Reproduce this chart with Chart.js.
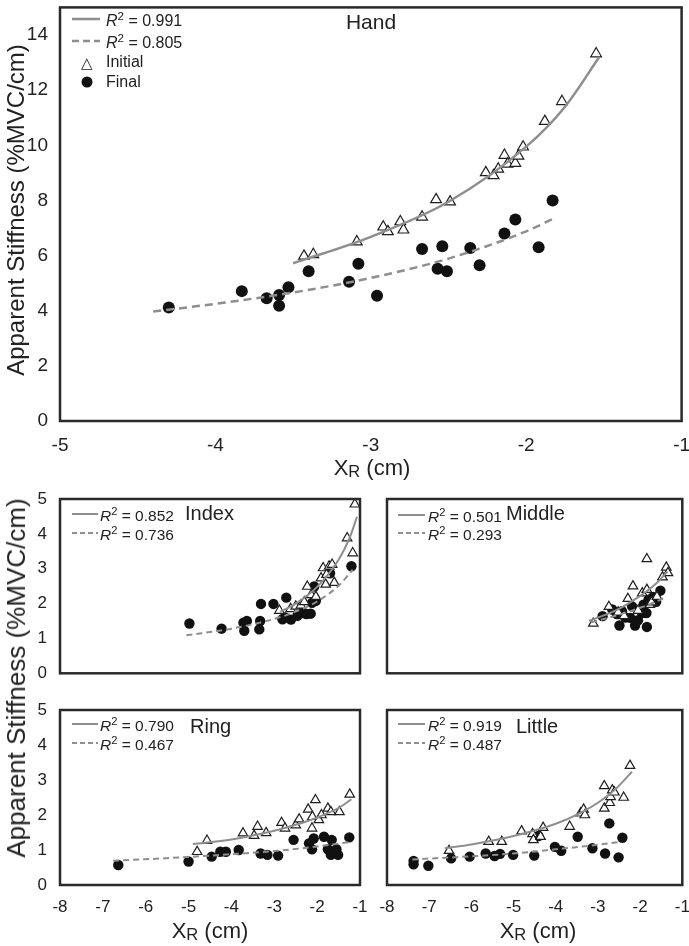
<!DOCTYPE html>
<html>
<head>
<meta charset="utf-8">
<script src="https://cdn.jsdelivr.net/npm/chart.js@4.4.0/dist/chart.umd.min.js"></script>
<style>
  body { margin: 0; background: #fff; }
  #page { position: relative; width: 689px; height: 946px; overflow: hidden; font-family: 'Liberation Sans', Arial, sans-serif; color: #222; }
  canvas { position: absolute; }
  .txt { position: absolute; white-space: nowrap; line-height: 1; transform: translateY(-50%); }
  .ctr { transform: translate(-50%, -50%); }
  .r2 sup { font-size: 0.72em; position: relative; top: -0.15em; vertical-align: top; }
  .xt sub { font-size: 0.75em; position: relative; top: 0.1em; vertical-align: baseline; }
  .yt { position: absolute; white-space: nowrap; line-height: 1; transform: translate(-50%, -50%) rotate(-90deg); }
  .dot { position: absolute; width: 11px; height: 11px; border-radius: 50%; background: #111; transform: translate(-50%, -50%); }
  svg { position: absolute; overflow: visible; }
</style>
</head>
<body>
<div id="page">
  <canvas id="hand"></canvas>
  <canvas id="index"></canvas>
  <canvas id="middle"></canvas>
  <canvas id="ring"></canvas>
  <canvas id="little"></canvas>
</div>
<script>
// ---- data: [XR (cm), stiffness (%MVC/cm)] ----
const handInitial = [[-3.43,5.98],[-3.37,6.04],[-3.09,6.50],[-2.92,7.04],[-2.89,6.87],[-2.81,7.23],[-2.79,6.93],
  [-2.67,7.40],[-2.58,8.03],[-2.49,7.95],[-2.26,9.01],[-2.21,8.90],[-2.18,9.14],[-2.14,9.64],[-2.12,9.32],
  [-2.07,9.35],[-2.05,9.61],[-2.02,9.94],[-1.88,10.87],[-1.77,11.59],[-1.55,13.32]];
const handFinal = [[-4.30,4.12],[-3.83,4.71],[-3.67,4.45],[-3.59,4.57],[-3.59,4.18],[-3.53,4.85],[-3.40,5.43],
  [-3.14,5.05],[-3.08,5.70],[-2.96,4.54],[-2.67,6.24],[-2.57,5.52],[-2.54,6.34],[-2.51,5.43],[-2.36,6.27],
  [-2.30,5.65],[-2.14,6.80],[-2.07,7.31],[-1.92,6.30],[-1.83,8.00]];
const handFitInitial = [[-3.50,5.72],[-3.00,6.68],[-2.50,7.95],[-2.00,9.95],[-1.75,11.4],[-1.53,13.2]];
const handFitFinal = [[-4.40,3.97],[-4.00,4.25],[-3.50,4.66],[-3.00,5.19],[-2.50,5.89],[-2.00,6.88],[-1.81,7.38]];

const indexInitial = [[-2.88,1.80],[-2.62,1.85],[-2.50,1.92],[-2.38,1.95],[-2.30,2.05],[-2.23,2.49],[-2.14,2.25],
  [-2.03,2.20],[-1.91,2.73],[-1.86,3.02],[-1.80,2.55],[-1.78,2.83],[-1.72,3.07],[-1.65,3.12],[-1.60,2.60],
  [-1.30,3.88],[-1.17,3.45],[-1.12,4.85]];
const indexFinal = [[-4.98,1.43],[-4.23,1.28],[-3.72,1.45],[-3.64,1.50],[-3.70,1.22],[-3.33,1.50],[-3.35,1.26],
  [-3.31,1.99],[-3.02,1.99],[-2.81,1.55],[-2.72,2.17],[-2.75,1.60],[-2.61,1.54],[-2.46,1.65],[-2.34,1.73],
  [-2.25,1.70],[-2.15,1.71],[-2.12,2.02],[-2.03,2.08],[-2.07,2.49],[-1.70,2.87],[-1.20,3.07]];
const indexFitInitial = [[-2.86,1.77],[-2.50,2.00],[-2.00,2.48],[-1.50,3.26],[-1.25,3.86],[-1.07,4.49]];
const indexFitFinal = [[-5.05,1.09],[-4.00,1.28],[-3.00,1.56],[-2.50,1.77],[-2.00,2.06],[-1.50,2.51],[-1.17,2.97]];

const middleInitial = [[-3.11,1.43],[-2.74,1.91],[-2.52,1.75],[-2.38,1.65],[-2.29,2.14],[-2.17,2.50],[-2.05,1.80],
  [-1.95,2.30],[-1.84,2.40],[-1.84,3.28],[-1.77,1.97],[-1.73,2.04],[-1.60,2.20],[-1.47,2.76],[-1.38,3.04],[-1.34,2.88]];
const middleFinal = [[-2.89,1.64],[-2.66,1.83],[-2.55,1.70],[-2.49,1.37],[-2.43,1.78],[-2.35,1.60],[-2.23,1.59],
  [-2.19,1.92],[-2.12,1.37],[-2.05,1.52],[-1.95,1.73],[-1.92,1.97],[-1.84,1.33],[-1.85,1.73],[-1.80,2.11],
  [-1.69,2.19],[-1.62,2.05],[-1.52,2.37]];
const middleFitInitial = [[-3.21,1.50],[-2.50,1.85],[-2.00,2.22],[-1.60,2.60],[-1.35,2.92]];
const middleFitFinal = [[-3.16,1.46],[-2.50,1.68],[-2.00,1.88],[-1.60,2.07],[-1.45,2.15]];

const ringInitial = [[-4.80,0.95],[-4.57,1.27],[-3.73,1.48],[-3.47,1.41],[-3.39,1.67],[-3.19,1.49],[-2.83,1.78],
  [-2.75,1.62],[-2.50,1.71],[-2.42,1.88],[-2.21,2.16],[-2.11,1.95],[-2.12,1.62],[-2.04,2.43],[-1.96,1.86],
  [-1.90,2.00],[-1.75,2.19],[-1.68,2.09],[-1.48,2.09],[-1.24,2.59]];
const ringFinal = [[-6.64,0.57],[-5.00,0.67],[-4.46,0.81],[-4.26,0.95],[-4.13,0.95],[-3.83,1.00],[-3.32,0.90],
  [-3.16,0.86],[-2.91,0.84],[-2.55,1.29],[-2.19,1.19],[-2.12,1.02],[-2.08,1.33],[-1.84,1.38],[-1.75,1.02],
  [-1.66,1.29],[-1.68,0.86],[-1.55,1.02],[-1.51,0.86],[-1.25,1.36]];
const ringFitInitial = [[-4.90,1.17],[-4.00,1.30],[-3.00,1.55],[-2.50,1.72],[-2.00,1.93],[-1.50,2.20],[-1.20,2.45]];
const ringFitFinal = [[-6.76,0.69],[-5.00,0.80],[-4.00,0.88],[-3.00,0.97],[-2.00,1.10],[-1.17,1.24]];

const littleInitial = [[-6.53,0.98],[-5.59,1.24],[-5.28,1.24],[-4.81,1.54],[-4.55,1.46],[-4.53,1.29],[-4.36,1.38],
  [-4.30,1.64],[-3.67,1.67],[-3.41,2.05],[-3.34,2.16],[-3.31,2.00],[-2.85,2.83],[-2.85,2.19],[-2.72,2.35],
  [-2.70,2.52],[-2.66,2.71],[-2.61,2.65],[-2.39,2.50],[-2.24,3.41]];
const littleFinal = [[-7.37,0.69],[-7.37,0.59],[-7.02,0.55],[-6.48,0.76],[-6.04,0.81],[-5.66,0.90],[-5.45,0.83],
  [-5.32,0.89],[-5.01,0.86],[-4.51,0.84],[-4.41,1.40],[-4.02,1.09],[-3.87,0.98],[-3.48,1.38],[-3.13,1.05],
  [-2.83,0.90],[-2.73,1.76],[-2.51,0.79],[-2.42,1.35]];
const littleFitInitial = [[-6.63,1.05],[-6.00,1.16],[-5.00,1.40],[-4.00,1.75],[-3.40,2.07],[-3.00,2.35],[-2.60,2.72],[-2.19,3.24]];
const littleFitFinal = [[-7.40,0.73],[-6.00,0.82],[-5.00,0.90],[-4.00,1.02],[-3.00,1.15],[-2.44,1.24]];

const handXTicks = [-5, -4, -3, -2, -1];
const handYTicks = [0, 2, 4, 6, 8, 10, 12, 14];
const fingerXTicks = [-8, -7, -6, -5, -4, -3, -2, -1];
const fingerYTicks = [0, 1, 2, 3, 4, 5];

const panelNames = ['Hand', 'Index', 'Middle', 'Ring', 'Little'];
const r2Initial = ['0.991', '0.852', '0.501', '0.790', '0.919'];
const r2Final = ['0.805', '0.736', '0.293', '0.467', '0.487'];

// ---- drawing ----
const FONT = "'Liberation Sans', Arial, sans-serif";
const FIT_GRAY = '#8e8e8e';
const page = document.getElementById('page');

const framePlugin = {
    id: 'frame',
    afterDatasetsDraw(chart) {
        const a = chart.chartArea;
        const ctx = chart.ctx;
        ctx.save();
        ctx.strokeStyle = '#2a2a2a';
        ctx.lineWidth = 2.5;
        ctx.strokeRect(a.left, a.top, a.right - a.left, a.bottom - a.top);
        ctx.restore();
    }
};

function toPoints(arr) {
    return arr.map(p => ({ x: p[0], y: p[1] }));
}

// box = canvas [left, top, width, height], area = plot [left, top, right, bottom] in page pixels
function makePanel(id, box, area, cfg) {
    const cv = document.getElementById(id);
    cv.width = box[2];
    cv.height = box[3];
    cv.style.left = box[0] + 'px';
    cv.style.top = box[1] + 'px';
    cv.style.width = box[2] + 'px';
    cv.style.height = box[3] + 'px';

    new Chart(cv, {
        type: 'scatter',
        data: {
            datasets: [
                { data: toPoints(cfg.fitInitial), showLine: true, borderColor: FIT_GRAY, borderWidth: cfg.lw,
                  pointRadius: 0, cubicInterpolationMode: 'monotone', fill: false },
                { data: toPoints(cfg.fitFinal), showLine: true, borderColor: FIT_GRAY, borderWidth: cfg.lw,
                  borderDash: cfg.dash, pointRadius: 0, cubicInterpolationMode: 'monotone', fill: false },
                { data: toPoints(cfg.initial), pointStyle: 'triangle', pointRadius: cfg.tri,
                  backgroundColor: '#fff', borderColor: '#1e1e1e', borderWidth: 1.2 },
                { data: toPoints(cfg.final), pointStyle: 'circle', pointRadius: cfg.dot,
                  backgroundColor: '#111', borderColor: '#111', borderWidth: 0 }
            ]
        },
        options: {
            responsive: false,
            animation: false,
            devicePixelRatio: 1,
            layout: { padding: { top: area[1] - box[1], right: box[0] + box[2] - area[2], left: 0, bottom: 0 } },
            plugins: { legend: { display: false }, tooltip: { enabled: false } },
            scales: {
                x: {
                    type: 'linear',
                    min: cfg.xTicks[0],
                    max: cfg.xTicks[cfg.xTicks.length - 1],
                    grid: { display: false, drawTicks: false },
                    border: { display: false },
                    ticks: { display: cfg.showX, color: '#222', font: { family: FONT, size: cfg.fs },
                             padding: cfg.xpad, maxRotation: 0, autoSkip: false },
                    afterBuildTicks: s => { s.ticks = cfg.xTicks.map(v => ({ value: v })); },
                    afterFit: s => { s.height = box[1] + box[3] - area[3]; s.paddingLeft = 0; s.paddingRight = 0; }
                },
                y: {
                    type: 'linear',
                    min: 0,
                    max: cfg.yMax,
                    grid: { display: false, drawTicks: false },
                    border: { display: false },
                    ticks: { display: cfg.showY, color: '#222', font: { family: FONT, size: cfg.fs },
                             padding: cfg.ypad, autoSkip: false },
                    afterBuildTicks: s => { s.ticks = cfg.yTicks.map(v => ({ value: v })); },
                    afterFit: s => { s.width = area[0] - box[0]; s.paddingTop = 0; s.paddingBottom = 0; }
                }
            }
        },
        plugins: [framePlugin]
    });
}

const small = { xTicks: fingerXTicks, yTicks: fingerYTicks, yMax: 5, fs: 17, xpad: 12, ypad: 13,
                tri: 5.5, dot: 5.2, lw: 2, dash: [6, 4] };

makePanel('hand', [0, 0, 689, 470], [60, 1, 686, 421], {
    initial: handInitial, final: handFinal, fitInitial: handFitInitial, fitFinal: handFitFinal,
    xTicks: handXTicks, yTicks: handYTicks, yMax: 15, fs: 19, xpad: 13, ypad: 12,
    showX: true, showY: true, tri: 6.2, dot: 6, lw: 2.5, dash: [8, 5]
});
makePanel('index', [0, 482, 370, 198], [60, 499, 360, 674], Object.assign({}, small, {
    initial: indexInitial, final: indexFinal, fitInitial: indexFitInitial, fitFinal: indexFitFinal,
    showX: false, showY: true }));
makePanel('middle', [370, 482, 319, 198], [387, 499, 685, 674], Object.assign({}, small, {
    initial: middleInitial, final: middleFinal, fitInitial: middleFitInitial, fitFinal: middleFitFinal,
    showX: false, showY: false }));
makePanel('ring', [0, 690, 370, 240], [60, 710, 360, 885], Object.assign({}, small, {
    initial: ringInitial, final: ringFinal, fitInitial: ringFitInitial, fitFinal: ringFitFinal,
    showX: true, showY: true }));
makePanel('little', [370, 690, 319, 240], [387, 710, 685, 885], Object.assign({}, small, {
    initial: littleInitial, final: littleFinal, fitInitial: littleFitInitial, fitFinal: littleFitFinal,
    showX: true, showY: false }));

// ---- text and legends ----
function addText(html, x, y, size, cls) {
    const d = document.createElement('div');
    d.className = cls;
    d.style.left = x + 'px';
    d.style.top = y + 'px';
    d.style.fontSize = size + 'px';
    d.innerHTML = html;
    page.appendChild(d);
    return d;
}

function addSample(x1, x2, y, dashed, width) {
    const ns = 'http://www.w3.org/2000/svg';
    const svg = document.createElementNS(ns, 'svg');
    svg.setAttribute('width', 1);
    svg.setAttribute('height', 1);
    svg.style.left = '0px';
    svg.style.top = '0px';
    const ln = document.createElementNS(ns, 'line');
    ln.setAttribute('x1', x1); ln.setAttribute('x2', x2);
    ln.setAttribute('y1', y); ln.setAttribute('y2', y);
    ln.setAttribute('stroke', FIT_GRAY);
    ln.setAttribute('stroke-width', width);
    if (dashed) ln.setAttribute('stroke-dasharray', dashed);
    svg.appendChild(ln);
    page.appendChild(svg);
}

function addLegend(i, lineX, textX, y1, y2, size, lw, dash) {
    addSample(lineX[0], lineX[1], y1, null, lw);
    addSample(lineX[0], lineX[1], y2, dash, lw);
    addText('<i>R</i><sup>2</sup> = ' + r2Initial[i], textX, y1 + 2, size, 'txt r2');
    addText('<i>R</i><sup>2</sup> = ' + r2Final[i], textX, y2 + 2, size, 'txt r2');
}

// Hand
addText(panelNames[0], 371, 21, 21, 'txt ctr');
addLegend(0, [72, 100], 106, 19, 41, 16, 2.5, '7 4');
addText('&#9651;', 87, 62, 15, 'txt ctr');
const legendDot = document.createElement('div');
legendDot.className = 'dot';
legendDot.style.left = '87px';
legendDot.style.top = '82px';
page.appendChild(legendDot);
addText('Initial', 106, 62, 16, 'txt');
addText('Final', 106, 82, 16, 'txt');

// fingers
addLegend(1, [72, 98], 100, 514, 533, 15.5, 2, '5 3');
addText(panelNames[1], 185, 513, 20, 'txt');
addLegend(2, [398, 425], 428, 515, 533, 15.5, 2, '5 3');
addText(panelNames[2], 506, 513, 20, 'txt');
addLegend(3, [72, 98], 100, 724, 743, 15.5, 2, '5 3');
addText(panelNames[3], 190, 726, 20, 'txt');
addLegend(4, [398, 425], 428, 724, 743, 15.5, 2, '5 3');
addText(panelNames[4], 516, 726, 20, 'txt');

// axis titles
addText('Apparent Stiffness (%MVC/cm)', 16, 210, 24, 'yt');
addText('Apparent Stiffness (%MVC/cm)', 16, 678, 26, 'yt');
addText('X<sub>R</sub> (cm)', 372, 468, 22, 'txt ctr xt');
addText('X<sub>R</sub> (cm)', 210, 931, 22, 'txt ctr xt');
addText('X<sub>R</sub> (cm)', 538, 931, 22, 'txt ctr xt');
</script>
</body>
</html>
